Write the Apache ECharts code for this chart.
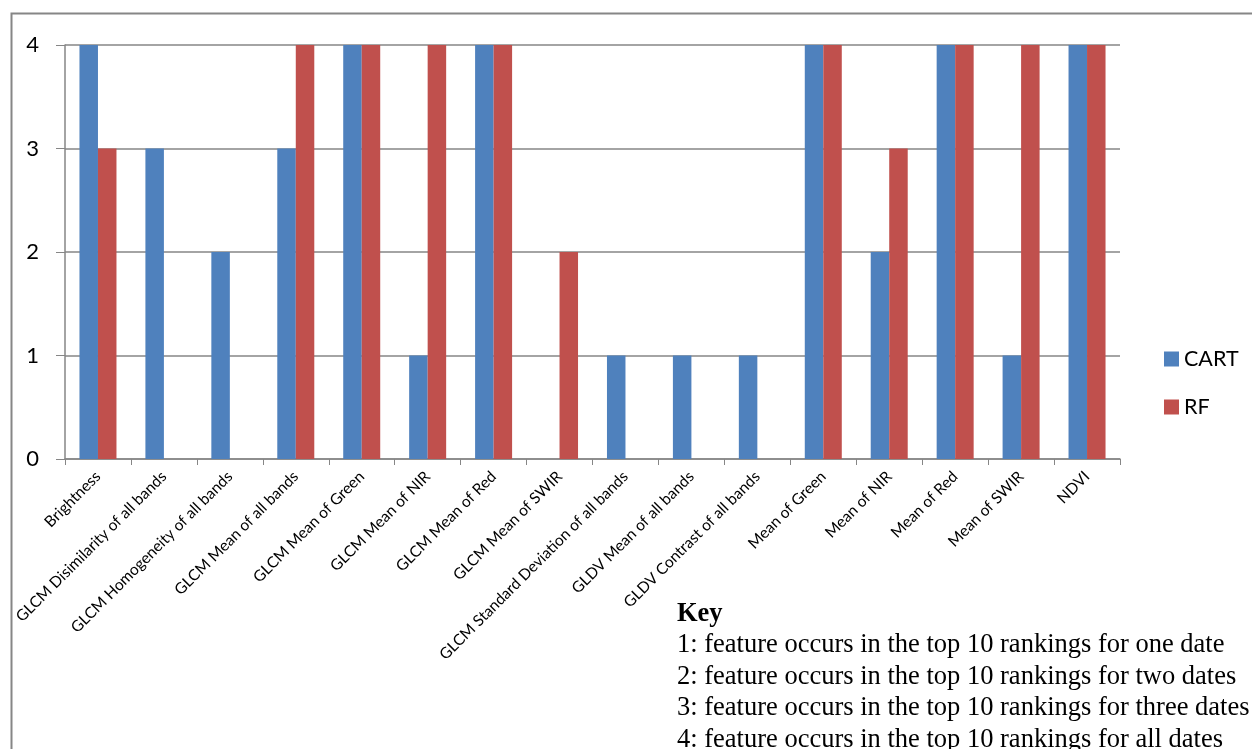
<!DOCTYPE html>
<html>
<head>
<meta charset="utf-8">
<script src="https://cdn.jsdelivr.net/npm/echarts@6/dist/echarts.min.js"></script>
<style>
html,body{margin:0;padding:0;background:#fff;}
#c{width:1252px;height:749px;}
</style>
</head>
<body>
<div id="c"></div>
<script>
const categories = ["Brightness","GLCM Disimilarity of all bands","GLCM Homogeneity of all bands","GLCM Mean of all bands","GLCM Mean of Green","GLCM Mean of NIR","GLCM Mean of Red","GLCM Mean of SWIR","GLCM Standard Deviation of all bands","GLDV Mean of all bands","GLDV Contrast of all bands","Mean of Green","Mean of NIR","Mean of Red","Mean of SWIR","NDVI"];
const cartValues = [4,3,2,3,4,1,4,0,1,1,1,4,2,4,1,4];
const rfValues = [3,0,0,4,4,4,4,2,0,0,0,4,3,4,4,4];
const keyLines = [
  "1: feature occurs in the top 10 rankings for one date",
  "2: feature occurs in the top 10 rankings for two dates",
  "3: feature occurs in the top 10 rankings for three dates",
  "4: feature occurs in the top 10 rankings for all dates"
];

const chart = echarts.init(document.getElementById('c'));
const sans = 'Lato, "Open Sans", sans-serif';
const serifFont = '"Liberation Serif", "Times New Roman", serif';
const keyGraphics = keyLines.map((t,i)=>({
  type:'text', left:677, top:632 + i*31.5,
  style:{text:t, font:'26.5px ' + serifFont, fill:'#000'}
}));
chart.setOption({
  animation:false,
  backgroundColor:'#fff',
  grid:{left:65, right:132, top:45, bottom:290, containLabel:false},
  legend:{
    orient:'vertical', left:1159, top:343, itemGap:26, itemWidth:15, itemHeight:15,
    icon:'rect',
    textStyle:{fontFamily:sans, fontSize:21.5, color:'#000', padding:[0,0,0,0]},
    data:['CART','RF']
  },
  xAxis:{
    type:'category', data:categories,
    axisLine:{lineStyle:{color:'#868686', width:1.5}},
    axisTick:{show:true, alignWithLabel:false, length:6, lineStyle:{color:'#868686'}},
    axisLabel:{interval:0, rotate:45, fontFamily:sans, fontSize:15.5, color:'#000', margin:15}
  },
  yAxis:{
    type:'value', min:0, max:4, interval:1,
    axisLine:{show:true, lineStyle:{color:'#868686', width:1.5}},
    axisTick:{show:true, length:9, lineStyle:{color:'#868686'}},
    splitLine:{lineStyle:{color:'#868686', width:1.5}},
    axisLabel:{fontFamily:sans, fontSize:22, color:'#000', margin:26}
  },
  series:[
    {name:'CART', type:'bar', data:cartValues, barWidth:18.5, barGap:'0%', itemStyle:{color:'#4F81BD'}},
    {name:'RF', type:'bar', data:rfValues, barWidth:18.5, itemStyle:{color:'#C0504D'}}
  ],
  graphic:[
    {type:'rect', left:9, top:11, shape:{width:1300, height:800}, style:{fill:'none', stroke:'#868686', lineWidth:2}, z:-1},
    {type:'text', left:677, top:601, style:{text:'Key', font:'bold 26.5px ' + serifFont, fill:'#000'}}
  ].concat(keyGraphics)
});
</script>
</body>
</html>
